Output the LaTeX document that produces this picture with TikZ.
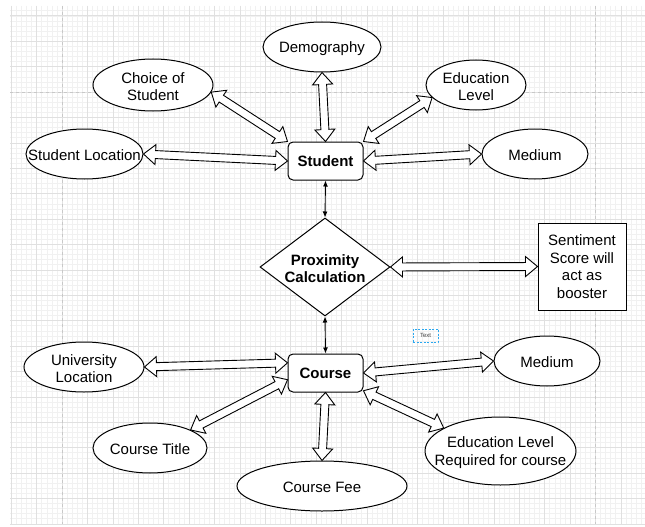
\documentclass[tikz,border=0pt]{standalone}
\usepackage{fontspec}
\setmainfont{Liberation Sans}
\usetikzlibrary{shapes.geometric,calc,arrows.meta}
\definecolor{gminor}{HTML}{F1F1F1}
\definecolor{gmajor}{HTML}{E0E0E0}
\definecolor{gdash}{HTML}{C8C8C8}
\definecolor{selblue}{HTML}{2AA8F0}
\newcommand\fhl{12pt}
\newcommand\fhw{10pt}
\newcommand\fsw{4pt}
% double-headed outline (flex) arrow between two named points
\newcommand\flexarr[2]{%
  \draw[flex] (#1)
    -- ($(#1)!\fhl!(#2)!\fhw!90:(#2)$)
    -- ($(#1)!\fhl!(#2)!\fsw!90:(#2)$)
    -- ($(#2)!\fhl!(#1)!\fsw!-90:(#1)$)
    -- ($(#2)!\fhl!(#1)!\fhw!-90:(#1)$)
    -- (#2)
    -- ($(#2)!\fhl!(#1)!\fhw!90:(#1)$)
    -- ($(#2)!\fhl!(#1)!\fsw!90:(#1)$)
    -- ($(#1)!\fhl!(#2)!\fsw!-90:(#2)$)
    -- ($(#1)!\fhl!(#2)!\fhw!-90:(#2)$)
    -- cycle;}
\tikzset{
  txt/.style={font=\fontsize{15}{17.5}\selectfont, align=center, text=black},
  base/.style={draw=black, line width=1pt, fill=white, inner sep=0pt, txt},
  oval/.style={base, ellipse},
  box/.style={base, rectangle, rounded corners=5pt, minimum width=75pt, minimum height=38pt, font=\fontsize{15}{17.5}\selectfont\bfseries},
  every label/.style={txt, inner sep=0pt, yshift=-1.5pt},
  flex/.style={draw=black, line width=0.9pt, fill=white, line join=miter},
  thinarr/.style={draw=black, line width=0.9pt, {Latex[length=6pt,width=5pt]}-{Latex[length=6pt,width=5pt]}},
  gminorline/.style={draw=gminor, line width=0.5pt},
  gmajorline/.style={draw=gmajor, line width=0.6pt},
  gdashline/.style={draw=gdash, line width=0.8pt, dash pattern=on 3pt off 3pt}
}
\begin{document}
\begin{tikzpicture}[x=1pt,y=-1pt]
\useasboundingbox (0,0) rectangle (645,527);
\fill[white] (0,0) rectangle (645,527);
% grid
\foreach \i in {-10,...,114}{\draw[gminorline] ({62+\i*5.08},6) -- ({62+\i*5.08},524);}
\foreach \j in {-16,...,85}{\draw[gminorline] (10,{92+\j*5.08}) -- (645,{92+\j*5.08});}
\foreach \i in {-2,...,22}{\draw[gmajorline] ({62+\i*25.4},6) -- ({62+\i*25.4},524);}
\foreach \j in {-3,...,17}{\draw[gmajorline] (10,{92+\j*25.4}) -- (645,{92+\j*25.4});}
\draw[gdashline] (62,6) -- (62,524);
\draw[gdashline] (595.4,6) -- (595.4,524);
\draw[gdashline] (10,92) -- (645,92);

% student side
\node[oval, minimum width=118pt, minimum height=50pt, label=center:{Demography}] (demo) at (322,47) {};
\node[oval, minimum width=120pt, minimum height=52pt, label=center:{Choice of\\Student}] (choice) at (153,85) {};
\node[oval, minimum width=100pt, minimum height=50pt, label=center:{Education\\Level}] (edu) at (476,85) {};
\node[oval, minimum width=117pt, minimum height=50pt, label=center:{Student Location}] (sloc) at (84.5,154) {};
\node[oval, minimum width=106pt, minimum height=50pt, label=center:{Medium}] (med1) at (535,154) {};
\node[box] (student) at (325.5,161) {Student};

% middle
\node[base, diamond, minimum width=130pt, minimum height=98pt, label={[font=\fontsize{15}{17.5}\selectfont\bfseries]center:{Proximity\\Calculation}}] (prox) at (325,267) {};
\node[base, rectangle, minimum width=88pt, minimum height=87pt] (sent) at (582,266.5) {Sentiment\\Score will\\act as\\booster};
\node[draw=selblue, line width=0.8pt, dash pattern=on 2pt off 1.5pt, inner sep=0pt, minimum width=25pt, minimum height=13pt, font=\fontsize{6}{7}\selectfont, text=black!75] (textbox) at (425.5,335.5) {Text};

% course side
\node[box] (course) at (325.5,373) {Course};
\node[oval, minimum width=120pt, minimum height=50pt, label=center:{University\\Location}] (uloc) at (84,367) {};
\node[oval, minimum width=106pt, minimum height=50pt, label=center:{Medium}] (med2) at (547,361) {};
\node[oval, minimum width=114pt, minimum height=50pt, label=center:{Course Title}] (ctitle) at (150,448) {};
\node[oval, minimum width=151pt, minimum height=68pt, label=center:{Education Level\\Required for course}] (edu2) at (500.5,451) {};
\node[oval, minimum width=170pt, minimum height=50pt, label=center:{Course Fee}] (fee) at (322,486) {};

% connectors
\flexarr{demo.south}{student.north}
\flexarr{choice.-7}{student.north west}
\flexarr{edu.196}{student.north east}
\flexarr{sloc.east}{student.west}
\flexarr{student.east}{med1.west}
\flexarr{prox.east}{sent.west}
\flexarr{uloc.east}{course.165}
\flexarr{ctitle.24}{course.190}
\flexarr{course.south}{fee.north}
\flexarr{course.east}{med2.west}
\flexarr{course.-25}{edu2.158}
\draw[thinarr] (student.south) -- (prox.north);
\draw[thinarr] (prox.south) -- (course.north);
\end{tikzpicture}
\end{document}
